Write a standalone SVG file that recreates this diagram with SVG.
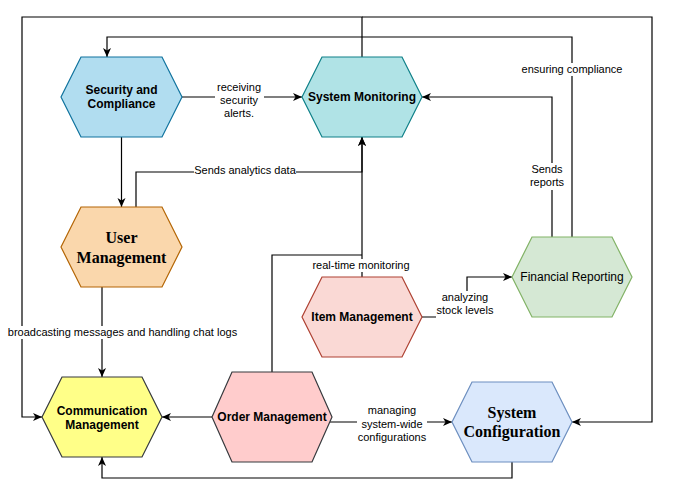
<svg xmlns="http://www.w3.org/2000/svg" width="677" height="491" viewBox="0 0 677 491">
<style>
.e{fill:none;stroke:#000;stroke-width:1.2}
.a{marker-end:url(#arr)}
.n{stroke-width:1.2}
.t{font-family:"Liberation Sans",Arial,sans-serif;font-size:12px;font-weight:bold;fill:#000;text-anchor:middle}
.tn{font-family:"Liberation Sans",Arial,sans-serif;font-size:12px;fill:#000;text-anchor:middle}
.ts{font-family:"Liberation Serif","Times New Roman",serif;font-size:16px;font-weight:bold;fill:#000;text-anchor:middle}
.l{font-family:"Liberation Sans",Arial,sans-serif;font-size:11px;fill:#000;text-anchor:middle}
.bg{fill:#fff}
</style>
<defs>
<marker id="arr" markerUnits="userSpaceOnUse" markerWidth="10" markerHeight="9" refX="9" refY="4.5" orient="auto">
<path d="M0,0.5 L9,4.5 L0,8.5 L2.5,4.5 z" fill="#000"/>
</marker>
</defs>
<rect width="677" height="491" fill="#fff"/>
<g id="connectors">
<path class="e a" d="M182,97 H302"/>
<path class="e a" d="M121.5,137 V207"/>
<path class="e a" d="M136,207 V172 H362 V137"/>
<path class="e a" d="M362,277 V137"/>
<path class="e" d="M272,372 V255 H362"/>
<path class="e a" d="M362,57 V17 H22 V417 H42"/>
<path class="e a" d="M362,17 H652 V422 H572"/>
<path class="e a" d="M572,237 V37 H107 V57"/>
<path class="e a" d="M552,237 V97 H422"/>
<path class="e a" d="M422,317 H467 V277 H512"/>
<path class="e a" d="M102,287 V377"/>
<path class="e a" d="M212,417 H162"/>
<path class="e a" d="M330,422 H452"/>
<path class="e a" d="M512,462 V478 H102 V457"/>
<g id="labels">
<rect class="bg" x="215" y="80" width="49" height="40"/>
<text class="l" x="239" y="91">receiving</text>
<text class="l" x="239" y="104">security</text>
<text class="l" x="239" y="117">alerts.</text>
<rect class="bg" x="194" y="164" width="102" height="13"/>
<text class="l" x="245" y="174">Sends analytics data</text>
<rect class="bg" x="312" y="259" width="98" height="13"/>
<text class="l" x="361" y="269">real-time monitoring</text>
<rect class="bg" x="521" y="63" width="102" height="13"/>
<text class="l" x="572" y="73">ensuring compliance</text>
<rect class="bg" x="529" y="163" width="36" height="27"/>
<text class="l" x="547" y="173">Sends</text>
<text class="l" x="547" y="186">reports</text>
<rect class="bg" x="436" y="291" width="59" height="27"/>
<text class="l" x="465" y="301">analyzing</text>
<text class="l" x="465" y="314">stock levels</text>
<rect class="bg" x="8" y="326" width="230" height="13"/>
<text class="l" x="122.5" y="336">broadcasting messages and handling chat logs</text>
<rect class="bg" x="357" y="404" width="70" height="40"/>
<text class="l" x="392" y="414">managing</text>
<text class="l" x="392" y="428">system-wide</text>
<text class="l" x="392" y="441">configurations</text>
</g>
</g>
<g id="security-compliance">
<polygon class="n" points="61,97 81,57 162,57 182,97 162,137 81,137" fill="#b1ddf0" stroke="#10739e"/>
<text class="t" x="121.5" y="93.5">Security and</text>
<text class="t" x="121.5" y="108">Compliance</text>
</g>
<g id="system-monitoring">
<polygon class="n" points="302,97 322,57 402,57 422,97 402,137 322,137" fill="#b0e3e6" stroke="#0e8088"/>
<text class="t" x="362" y="101">System Monitoring</text>
</g>
<g id="user-management">
<polygon class="n" points="61,247 81,207 162,207 182,247 162,287 81,287" fill="#fad7ac" stroke="#b46504"/>
<text class="ts" x="121.5" y="243">User</text>
<text class="ts" x="121.5" y="263">Management</text>
</g>
<g id="item-management">
<polygon class="n" points="302,317 322,277 402,277 422,317 402,357 322,357" fill="#fad9d5" stroke="#ae4132"/>
<text class="t" x="362" y="321">Item Management</text>
</g>
<g id="financial-reporting">
<polygon class="n" points="512,277 532,237 612,237 632,277 612,317 532,317" fill="#d5e8d4" stroke="#82b366"/>
<text class="tn" x="572" y="281">Financial Reporting</text>
</g>
<g id="communication-management">
<polygon class="n" points="42,417 62,377 142,377 162,417 142,457 62,457" fill="#ffff88" stroke="#36393d"/>
<text class="t" x="102" y="414.5">Communication</text>
<text class="t" x="102" y="428.5">Management</text>
</g>
<g id="order-management">
<polygon class="n" points="212,417 232,372 312,372 332,417 312,462 232,462" fill="#ffcccc" stroke="#36393d"/>
<text class="t" x="272" y="421">Order Management</text>
</g>
<g id="system-configuration">
<polygon class="n" points="452,422 472,382 552,382 572,422 552,462 472,462" fill="#dae8fc" stroke="#6c8ebf"/>
<text class="ts" x="512" y="418">System</text>
<text class="ts" x="512" y="437">Configuration</text>
</g>
</svg>
